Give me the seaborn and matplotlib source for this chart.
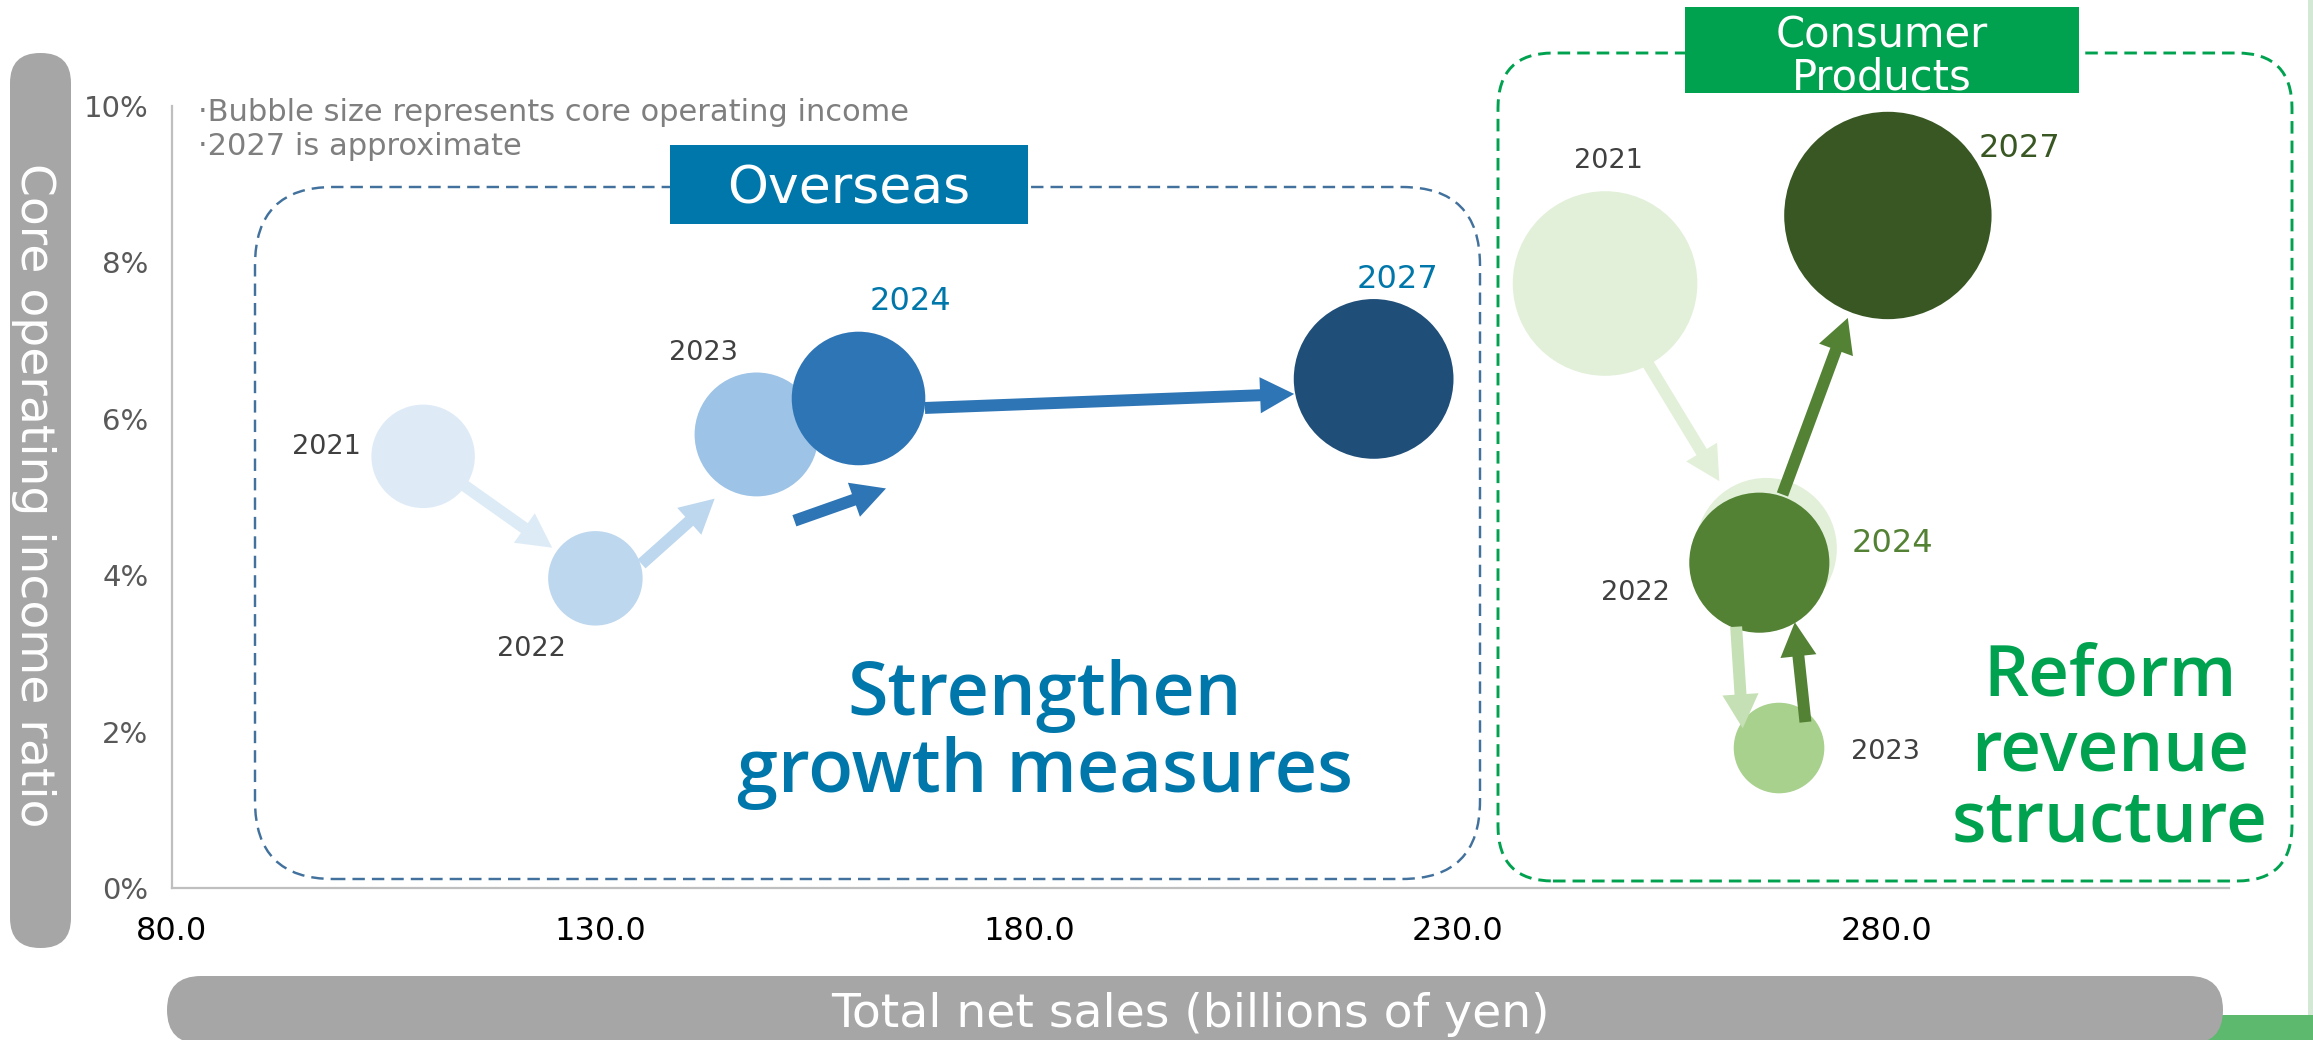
import matplotlib
matplotlib.use("Agg")
import numpy as np
import pandas as pd
import matplotlib.pyplot as plt
import seaborn as sns
from matplotlib.patches import FancyBboxPatch, FancyArrowPatch, Rectangle, ArrowStyle
from matplotlib.transforms import IdentityTransform

# ---------------------------------------------------------------- data
years = ["2021", "2022", "2023", "2024", "2027"]

# Overseas segment: total net sales (bn yen), core operating income ratio (%),
# core operating income (bn yen, drives bubble area)
overseas_sales = [109.3, 129.4, 148.2, 160.1, 220.2]
overseas_ratio = [5.52, 3.96, 5.80, 6.26, 6.51]
overseas_income = [6.0, 5.0, 8.6, 10.0, 14.3]

# Consumer Products segment
consumer_sales = [247.2, 266.0, 267.5, 265.2, 280.2]
consumer_ratio = [7.73, 4.34, 1.79, 4.16, 8.60]
consumer_income = [19.1, 11.2, 4.6, 11.0, 24.1]

x_ticks = [80, 130, 180, 230, 280]
y_ticks = [0, 2, 4, 6, 8, 10]

# ---------------------------------------------------------------- styles
W, H, DPI = 2313, 1040, 100
overseas_colors = ["#DEEBF7", "#BDD7EE", "#9DC3E6", "#2E75B6", "#1F4E79"]
consumer_colors = ["#E2F0D9", "#E2F0D9", "#A9D18E", "#548235", "#385723"]
GREY_TXT = "#404040"
BLUE_TXT = "#0077AA"
GREEN_MAIN = "#00A250"

# year label: (dx, dy) from bubble centre in pixels (y down), colour, size
overseas_labels = [(-97, -12, GREY_TXT, 19.5), (-64, 68, GREY_TXT, 19.5),
                   (-53, -84, GREY_TXT, 19.5), (52, -100, BLUE_TXT, 23),
                   (24, -103, BLUE_TXT, 23)]
consumer_labels = [(3, -125, GREY_TXT, 19.5), (-131, 42, GREY_TXT, 19.5),
                   (106, 1, GREY_TXT, 19.5), (133, -22, "#548235", 23),
                   (132, -70, "#385723", 23)]

# arrows: from, to, colour, side offset px, trim at start px, trim at end px
overseas_arrows = [(0, 1, "#DDEBF7", 0, 51, 53),
                   (1, 2, "#BDD7EE", -20, 44, 74),
                   (2, 3, "#2E75B6", -94, 7, 4),
                   (3, 4, "#2E75B6", -12, 66, 80)]
consumer_arrows = [(0, 1, "#E2F0D9", -5, 89, 82),
                   (1, 2, "#C5E0B4", -35, 76, 22),
                   (2, 3, "#548235", -29, 23, 63),
                   (3, 4, "#548235", 2, 72, 110)]

sns.set_style("white")
plt.rcParams["font.family"] = ["DejaVu Sans"]

fig = plt.figure(figsize=(W / DPI, H / DPI), dpi=DPI)
fig.patch.set_facecolor("white")

AX_L, AX_R, AX_T, AX_B = 172, 2229, 106, 888
ax = fig.add_axes([AX_L / W, (H - AX_B) / H, (AX_R - AX_L) / W, (AX_B - AX_T) / H])
ax.patch.set_visible(False)

# bubble area proportional to core operating income
SIZE_NORM = (0, 30)
SIZE_MAX = 925 * 30

df_o = pd.DataFrame({"year": years, "sales": overseas_sales,
                     "ratio": overseas_ratio, "income": overseas_income})
df_c = pd.DataFrame({"year": years, "sales": consumer_sales,
                     "ratio": consumer_ratio, "income": consumer_income})

for df, pal in ((df_o, overseas_colors), (df_c, consumer_colors)):
    sns.scatterplot(data=df, x="sales", y="ratio", hue="year", palette=pal,
                    size="income", sizes=(0, SIZE_MAX), size_norm=SIZE_NORM,
                    linewidth=0, legend=False, ax=ax, zorder=3)

ax.set_xlim(80, 320)
ax.set_ylim(0, 10)
ax.set_xticks(x_ticks)
ax.set_xticklabels([f"{v:.1f}" for v in x_ticks])
ax.set_yticks(y_ticks)
ax.set_yticklabels([f"{v}%" for v in y_ticks])
ax.tick_params(axis="x", length=0, pad=20, labelsize=23, labelcolor="black")
ax.tick_params(axis="y", length=0, pad=17, labelsize=21, labelcolor="#595959")
ax.set_xlabel("")
ax.set_ylabel("")
for side in ("top", "right"):
    ax.spines[side].set_visible(False)
for side in ("left", "bottom"):
    ax.spines[side].set_color("#BFBFBF")
    ax.spines[side].set_linewidth(1.6)
ax.grid(False)

# ---------------------------------------------------------------- arrows
inv = ax.transData.inverted()
style = ArrowStyle.Simple(head_length=24.5, head_width=26, tail_width=8.6)


def draw_arrows(sales, ratio, arrows):
    pts = ax.transData.transform(np.column_stack([sales, ratio]))
    for i, j, col, off, sa, sb in arrows:
        a, b = pts[i], pts[j]
        d = (b - a) / np.hypot(*(b - a))
        n = np.array([-d[1], d[0]])
        p0 = a + n * off + d * sa
        p1 = b + n * off - d * sb
        q0, q1 = inv.transform(p0), inv.transform(p1)
        ax.add_patch(FancyArrowPatch(q0, q1, arrowstyle=style, mutation_scale=1,
                                     color=col, lw=0, shrinkA=0, shrinkB=0,
                                     zorder=4))


draw_arrows(overseas_sales, overseas_ratio, overseas_arrows)
draw_arrows(consumer_sales, consumer_ratio, consumer_arrows)

# ---------------------------------------------------------------- year labels
PX2PT = 72 / DPI


def draw_labels(sales, ratio, labels):
    for x, y, yr, (dx, dy, col, fs) in zip(sales, ratio, years, labels):
        ax.annotate(yr, xy=(x, y), xytext=(dx * PX2PT, -dy * PX2PT - 0.365 * fs),
                    textcoords="offset points", ha="center", va="baseline",
                    fontsize=fs, color=col, zorder=5)


draw_labels(overseas_sales, overseas_ratio, overseas_labels)
draw_labels(consumer_sales, consumer_ratio, consumer_labels)

# ---------------------------------------------------------------- decorations
ID = IdentityTransform()


def rbox(x0, y0, x1, y1, r, **kw):
    p = FancyBboxPatch((x0, H - y1), x1 - x0, y1 - y0,
                       boxstyle=f"round,pad=0,rounding_size={r}",
                       transform=ID, **kw)
    fig.add_artist(p)
    return p


def rect(x0, y0, x1, y1, **kw):
    p = Rectangle((x0, H - y1), x1 - x0, y1 - y0, transform=ID, **kw)
    fig.add_artist(p)
    return p


def ftext(x, y, s, **kw):
    fig.text(x / W, 1 - y / H, s, **kw)


# slide edge
rect(2308, 0, 2313, 1015, facecolor="#D3E9D6", edgecolor="none", zorder=-2)
rect(2205, 1015, 2313, 1040, facecolor="#5CB96E", edgecolor="none", zorder=-2)

# axis title bars
rbox(10, 53, 71, 948, 30, facecolor="#A6A6A6", edgecolor="none", zorder=-1)
rbox(167, 976, 2223, 1044, 34, facecolor="#A6A6A6", edgecolor="none", zorder=-1)
t = fig.text(21 / W, 1 - 495 / H, "Core operating income ratio", rotation=270,
             rotation_mode="anchor", ha="center", va="baseline",
             fontsize=34, color="white")
ftext(1190, 1027, "Total net sales (billions of yen)", ha="center",
      va="baseline", fontsize=34, color="white")

# notes
ftext(198, 121, "\u00b7Bubble size represents core operating income",
      ha="left", va="baseline", fontsize=22, color="#7F7F7F")
ftext(198, 155, "\u00b72027 is approximate",
      ha="left", va="baseline", fontsize=22, color="#7F7F7F")

# segment frames
rbox(255, 187, 1480, 879, 78, fill=False, edgecolor="#41719C",
     linewidth=1.75, linestyle=(0, (5.1, 2.9)), zorder=-1)
rbox(1498, 53, 2292, 881, 55, fill=False, edgecolor=GREEN_MAIN,
     linewidth=2.1, linestyle=(0, (4.3, 2.4)), zorder=-1)

# segment headers
rect(670, 145, 1028, 224, facecolor=BLUE_TXT, edgecolor="none", zorder=2)
ftext(849, 204, "Overseas", ha="center", va="baseline", fontsize=37.5,
      color="white", zorder=3)
rect(1685, 7, 2079, 93, facecolor=GREEN_MAIN, edgecolor="none", zorder=2)
ftext(1882, 47, "Consumer", ha="center", va="baseline", fontsize=30,
      color="white", zorder=3)
ftext(1882, 90, "Products", ha="center", va="baseline", fontsize=30,
      color="white", zorder=3)

# strategy captions
big = dict(ha="center", va="baseline", fontweight="semibold",
           family=["Open Sans", "DejaVu Sans"], zorder=3)
ftext(1045, 715, "Strengthen", fontsize=53, color=BLUE_TXT, **big)
ftext(1045, 792, "growth measures", fontsize=53, color=BLUE_TXT, **big)
ftext(2110, 695, "Reform", fontsize=51, color=GREEN_MAIN, **big)
ftext(2110, 772, "revenue", fontsize=51, color=GREEN_MAIN, **big)
ftext(2110, 842, "structure", fontsize=51, color=GREEN_MAIN, **big)

fig.savefig("out.png", dpi=DPI, facecolor="white")
